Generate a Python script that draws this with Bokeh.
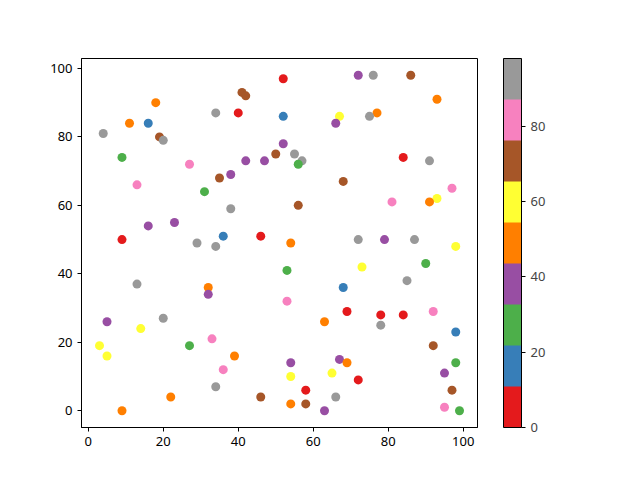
from bokeh.plotting import figure
from bokeh.models import ColumnDataSource, LinearColorMapper, ColorBar, FixedTicker, Range1d
from bokeh.palettes import Set1
from bokeh.transform import transform
from bokeh.embed import file_html
from bokeh.resources import INLINE

# точки
x = [52, 72, 76, 86, 93, 77, 75, 67, 66, 52, 52, 50, 55, 57, 56, 84, 91, 68, 97, 81,
     93, 91, 56, 54, 72, 79, 87, 98, 4, 9, 11, 18, 16, 19, 20, 13, 27, 31, 35, 38,
     42, 47, 34, 40, 41, 42, 38, 16, 23, 9, 36, 46, 29, 34, 13, 32, 32, 5, 20, 14,
     3, 5, 27, 33, 39, 36, 34, 22, 46, 9, 53, 73, 90, 85, 68, 53, 69, 78, 84, 92,
     63, 78, 98, 92, 54, 67, 69, 98, 54, 65, 72, 95, 58, 66, 97, 54, 58, 63, 95, 99]
y = [97, 98, 98, 98, 91, 87, 86, 86, 84, 86, 78, 75, 75, 73, 72, 74, 73, 67, 65, 61,
     62, 61, 60, 49, 50, 50, 50, 48, 81, 74, 84, 90, 84, 80, 79, 66, 72, 64, 68, 69,
     73, 73, 87, 87, 93, 92, 59, 54, 55, 50, 51, 51, 49, 48, 37, 36, 34, 26, 27, 24,
     19, 16, 19, 21, 16, 12, 7, 4, 4, 0, 41, 42, 43, 38, 36, 32, 29, 28, 28, 29,
     26, 25, 23, 19, 14, 15, 14, 14, 10, 11, 9, 11, 6, 4, 6, 2, 2, 0, 1, 0]
# значения цвета (по интервалам шкалы Set1)
c = [0, 38, 98, 71, 49, 49, 93, 60, 38, 16, 38, 71, 93, 93, 27, 5, 93, 71, 82, 82,
     60, 49, 71, 49, 93, 38, 93, 60, 93, 27, 49, 49, 16, 71, 93, 82, 82, 27, 71, 38,
     38, 38, 93, 5, 71, 71, 93, 38, 38, 5, 16, 5, 93, 93, 93, 49, 38, 38, 93, 60,
     60, 60, 27, 82, 49, 82, 93, 49, 71, 49, 27, 60, 27, 93, 16, 82, 5, 5, 5, 82,
     49, 93, 16, 71, 38, 38, 49, 27, 60, 60, 5, 38, 5, 93, 71, 49, 71, 38, 82, 27]
cbar_ticks = [0, 20, 40, 60, 80]
axis_ticks = [0, 20, 40, 60, 80, 100]

FONT = "Noto Sans"

source = ColumnDataSource(dict(x=x, y=y, c=c))
mapper = LinearColorMapper(palette=Set1[9], low=min(c), high=max(c))

xpad = 0.05 * (max(x) - min(x))
ypad = 0.05 * (max(y) - min(y))

p = figure(width=640, height=480, output_backend="svg", toolbar_location=None,
           x_range=Range1d(min(x) - xpad, max(x) + xpad),
           y_range=Range1d(min(y) - ypad, max(y) + ypad),
           min_border_left=81, min_border_right=163, min_border_top=58, min_border_bottom=53)
p.grid.visible = False
p.outline_line_color = "black"
p.outline_line_width = 1

p.scatter("x", "y", source=source, size=9, line_color=None,
          fill_color=transform("c", mapper))

for ax in (p.xaxis, p.yaxis):
    ax.ticker = FixedTicker(ticks=axis_ticks)
    ax.minor_tick_line_color = None
    ax.major_tick_in = 0
    ax.major_tick_out = 4
    ax.major_label_text_font = FONT
    ax.major_label_text_font_size = "13px"
    ax.major_label_text_color = "black"
    ax.axis_line_color = "black"
    ax.major_tick_line_color = "black"

cb = ColorBar(color_mapper=mapper, width=18, height=369, padding=0, margin=0,
              location=(26, 0),
              ticker=FixedTicker(ticks=cbar_ticks),
              major_tick_in=0, major_tick_out=4, major_tick_line_color="black",
              minor_tick_line_color=None, bar_line_color="black",
              major_label_text_font=FONT, major_label_text_font_size="13px",
              background_fill_color=None, border_line_color=None)
p.add_layout(cb, "right")

open("out.html", "w").write(file_html(p, INLINE))
